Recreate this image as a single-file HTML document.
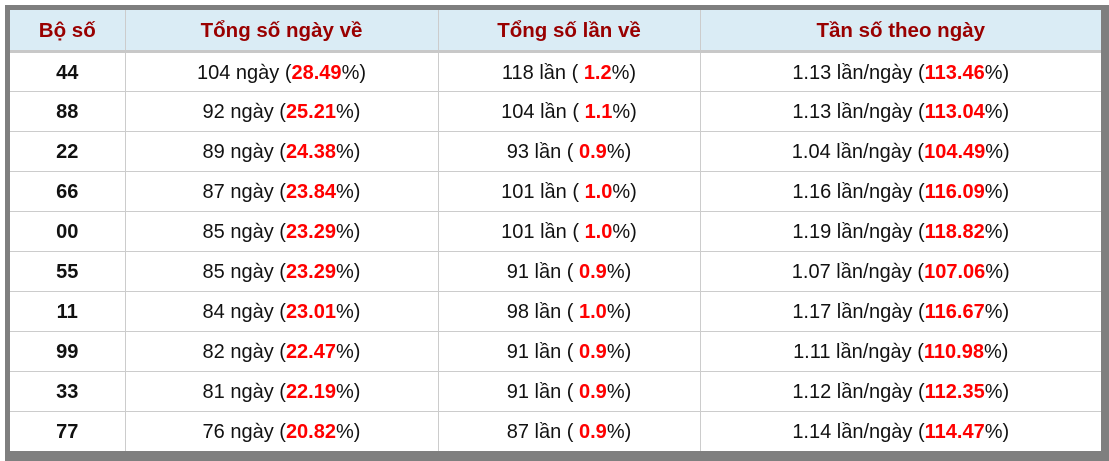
<!DOCTYPE html>
<html><head><meta charset="utf-8"><style>
body{margin:0;width:1109px;height:461px;background:#fff;overflow:hidden}
.box{position:absolute;left:5px;top:5px;width:1104px;height:456px;background:#7f7f7f}
table{position:absolute;left:10px;top:10px;width:1091px;border-collapse:collapse;background:#fff;font-family:"Liberation Sans",Arial,sans-serif;font-size:20px;table-layout:fixed}
th{background:#daecf5;color:#990000;font-weight:bold;font-size:20.5px;border-right:1px solid #ccc;border-bottom:3px solid #c8c8c8;padding:3px 0 0;box-sizing:border-box}
td{border-right:1px solid #ccc;border-bottom:1px solid #ccc;text-align:center;padding:3px 0 0;color:#111;box-sizing:border-box}
tr:last-child td{border-bottom:none}
th:last-child,td:last-child{border-right:none}
td:first-child{font-weight:bold}
b{color:#f00}
</style></head><body><div class="box"></div>
<table>
<col style="width:115px"><col style="width:313px"><col style="width:262px"><col>
<tr style="height:41px"><th>Bộ số</th><th>Tổng số ngày về</th><th>Tổng số lần về</th><th>Tần số theo ngày</th></tr>
<tr style="height:40px"><td>44</td><td>104 ngày (<b>28.49</b>%)</td><td>118 lần ( <b>1.2</b>%)</td><td>1.13 lần/ngày (<b>113.46</b>%)</td></tr>
<tr style="height:40px"><td>88</td><td>92 ngày (<b>25.21</b>%)</td><td>104 lần ( <b>1.1</b>%)</td><td>1.13 lần/ngày (<b>113.04</b>%)</td></tr>
<tr style="height:40px"><td>22</td><td>89 ngày (<b>24.38</b>%)</td><td>93 lần ( <b>0.9</b>%)</td><td>1.04 lần/ngày (<b>104.49</b>%)</td></tr>
<tr style="height:40px"><td>66</td><td>87 ngày (<b>23.84</b>%)</td><td>101 lần ( <b>1.0</b>%)</td><td>1.16 lần/ngày (<b>116.09</b>%)</td></tr>
<tr style="height:40px"><td>00</td><td>85 ngày (<b>23.29</b>%)</td><td>101 lần ( <b>1.0</b>%)</td><td>1.19 lần/ngày (<b>118.82</b>%)</td></tr>
<tr style="height:40px"><td>55</td><td>85 ngày (<b>23.29</b>%)</td><td>91 lần ( <b>0.9</b>%)</td><td>1.07 lần/ngày (<b>107.06</b>%)</td></tr>
<tr style="height:40px"><td>11</td><td>84 ngày (<b>23.01</b>%)</td><td>98 lần ( <b>1.0</b>%)</td><td>1.17 lần/ngày (<b>116.67</b>%)</td></tr>
<tr style="height:40px"><td>99</td><td>82 ngày (<b>22.47</b>%)</td><td>91 lần ( <b>0.9</b>%)</td><td>1.11 lần/ngày (<b>110.98</b>%)</td></tr>
<tr style="height:40px"><td>33</td><td>81 ngày (<b>22.19</b>%)</td><td>91 lần ( <b>0.9</b>%)</td><td>1.12 lần/ngày (<b>112.35</b>%)</td></tr>
<tr style="height:40px"><td>77</td><td>76 ngày (<b>20.82</b>%)</td><td>87 lần ( <b>0.9</b>%)</td><td>1.14 lần/ngày (<b>114.47</b>%)</td></tr>
</table></body></html>
